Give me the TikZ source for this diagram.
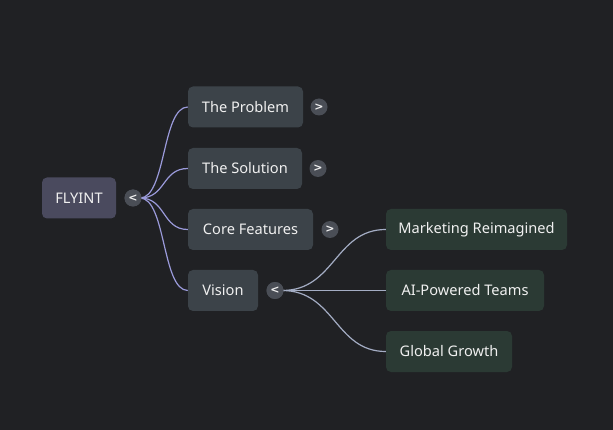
\documentclass[tikz,border=0pt]{standalone}
\usepackage{fontspec}
\setmainfont{Noto Sans}
\newfontfamily\chevfont{DejaVu Sans}
\definecolor{bg}{HTML}{202124}
\definecolor{rootc}{HTML}{4A4A5E}
\definecolor{lvone}{HTML}{3C4349}
\definecolor{lvtwo}{HTML}{2B3A34}
\definecolor{txt}{HTML}{F0F0F0}
\definecolor{edgeA}{HTML}{9A9ADA}
\definecolor{edgeB}{HTML}{A4ADC4}
\definecolor{btn}{HTML}{4A4E56}
\tikzset{
  box/.style={rounded corners=5pt, minimum height=41pt, inner sep=0pt, font=\fontsize{14.6}{16}\selectfont, text=txt},
  rootbox/.style={box, fill=rootc},
  onebox/.style={box, fill=lvone},
  twobox/.style={box, fill=lvtwo},
  btnc/.style={circle, fill=btn, minimum size=17pt, inner sep=0pt, text=txt, font=\chevfont\fontsize{11}{11}\selectfont\bfseries},
  linkA/.style={draw=edgeA, line width=1.2pt},
  linkB/.style={draw=edgeB, line width=1.2pt}
}
\begin{document}
\begin{tikzpicture}[x=1pt,y=-1pt]
\fill[bg] (0,0) rectangle (613,430);
\useasboundingbox (0,0) rectangle (613,430);

\node[rootbox, minimum width=74pt] (root) at (79,198) {FLYINT};
\node[btnc] (rb) at (133,198) {<};

\node[onebox, minimum width=115pt] (prob) at (245.5,107) {The Problem};
\node[btnc] (pb) at (319,107) {>};
\node[onebox, minimum width=114pt] (sol) at (245,168.5) {The Solution};
\node[btnc] (sb) at (318,168.5) {>};
\node[onebox, minimum width=125pt] (core) at (250.5,229.5) {Core Features};
\node[btnc] (cb) at (330,229.5) {>};
\node[onebox, minimum width=70pt] (vis) at (223,290.5) {Vision};
\node[btnc] (vb) at (275,290.5) {<};

\node[twobox, minimum width=181pt] (mkt) at (476.5,229.5) {Marketing Reimagined};
\node[twobox, minimum width=158pt] (ai) at (465,290.5) {AI-Powered Teams};
\node[twobox, minimum width=126pt] (glob) at (449,351.5) {Global Growth};

\coordinate (rs) at (140,198);
\foreach \t in {prob,sol,core,vis}{
  \path[linkA] (rs) .. controls (166,198) and (162,0 |- \t.west) .. (\t.west);
}
\coordinate (vs) at (282,290.5);
\foreach \t in {mkt,ai,glob}{
  \path[linkB] (vs) .. controls (335,290.5) and (335,0 |- \t.west) .. (\t.west);
}
\node[btnc] at (rb) {<};
\node[btnc] at (vb) {<};
\end{tikzpicture}
\end{document}
